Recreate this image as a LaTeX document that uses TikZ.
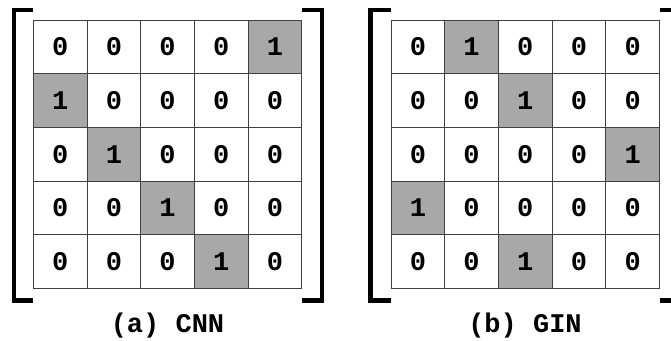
\documentclass[tikz,border=0pt]{standalone}
\usepackage{fontspec}
\setmonofont{Liberation Mono}
\begin{document}
\begin{tikzpicture}[x=1pt,y=-1pt,
  cell/.style={draw=black!75,line width=0.8pt,minimum size=53.7pt,inner sep=0pt,
    font=\fontsize{27}{27}\selectfont\ttfamily\bfseries},
  cell0/.style={cell,fill=white},
  cell1/.style={cell,fill=black!34},
  brak/.style={line width=4.6pt},
  caption/.style={anchor=base,font=\fontsize{27}{27}\selectfont\ttfamily\bfseries}]
  \useasboundingbox (0,0) rectangle (671,340);
  % (a) CNN
  \foreach \row [count=\r] in {{0,0,0,0,1},{1,0,0,0,0},{0,1,0,0,0},{0,0,1,0,0},{0,0,0,1,0}}
    \foreach \v [count=\c] in \row
      \node[cell\v] (cnn-\r-\c) at ({33.3+(\c-0.5)*53.7},{20+(\r-0.5)*53.7}) {\v};
  \draw[brak] (33.3,9.8) -- (14,9.8) -- (14,300.3) -- (33.3,300.3);
  \draw[brak] (301.7,9.8) -- (322,9.8) -- (322,300.3) -- (301.7,300.3);
  \node[caption] (cnncap) at (167.5,332) {(a) CNN};
  % (b) GIN
  \foreach \row [count=\r] in {{0,1,0,0,0},{0,0,1,0,0},{0,0,0,0,1},{1,0,0,0,0},{0,0,1,0,0}}
    \foreach \v [count=\c] in \row
      \node[cell\v] (gin-\r-\c) at ({391+(\c-0.5)*53.7},{20+(\r-0.5)*53.7}) {\v};
  \draw[brak] (391,9.8) -- (370.7,9.8) -- (370.7,300.3) -- (391,300.3);
  \draw[brak] (659.5,9.8) -- (680,9.8) -- (680,300.3) -- (659.5,300.3);
  \node[caption] (gincap) at (525,332) {(b) GIN};
\end{tikzpicture}
\end{document}
